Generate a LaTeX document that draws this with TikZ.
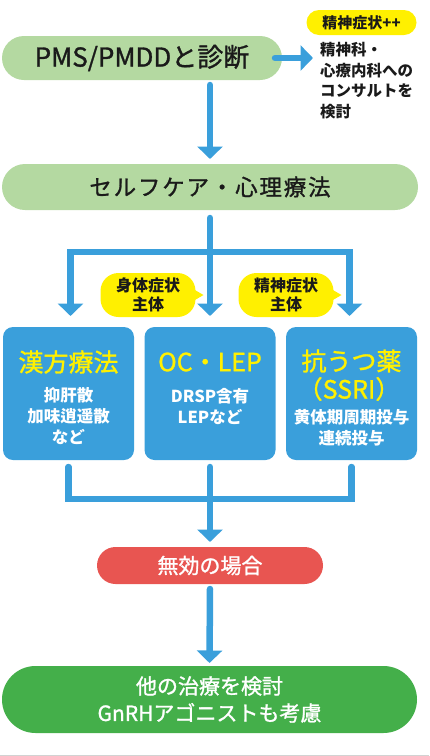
\documentclass[tikz,border=0pt]{standalone}
\usepackage{fontspec}
\setmainfont{Noto Sans CJK JP}
\newfontfamily\medfont[FakeBold=1.2]{Noto Sans CJK JP}
\newfontfamily\spcfont[LetterSpace=8,FakeBold=1.2]{Noto Sans CJK JP}
\usetikzlibrary{arrows.meta,calc}
\definecolor{lgreen}{HTML}{B4D9A1}
\definecolor{cblue}{HTML}{3A9FDB}
\definecolor{cyellow}{HTML}{FFF000}
\definecolor{cred}{HTML}{E85551}
\definecolor{cgreen}{HTML}{44AF4A}
\definecolor{ink}{HTML}{1A1A1A}
\begin{document}
\begin{tikzpicture}[x=1pt,y=-1pt,
 every node/.style={inner sep=0pt,outer sep=0pt,text=ink},
 arr/.style={draw=cblue,line width=6.5pt,line cap=round,-{Triangle[width=25pt,length=12.5pt]}},
 lin/.style={draw=cblue,line width=6.5pt,line cap=round,line join=miter},
 bluebox/.style={fill=cblue,rounded corners=10pt,minimum width=131pt,minimum height=133pt},
 ttl/.style={text=cyellow,font=\medfont\fontsize{25}{28}\selectfont},
 sub/.style={text=white,font=\bfseries\fontsize{16.5}{20}\selectfont},
 bubble/.style={fill=cyellow,rounded corners=18pt,minimum width=95pt,minimum height=44pt,align=center,font=\bfseries\fontsize{16}{18.5}\selectfont},
 ctext/.style={anchor=west,font=\bfseries\fontsize{15.5}{19}\selectfont}
]
\useasboundingbox (0,0) rectangle (429,756);
% top
\node[fill=lgreen,rounded corners=22pt,minimum width=280pt,minimum height=44pt,font=\medfont\fontsize{26}{30}\selectfont] (diag) at (142,58) {PMS/PMDDと診断};
\node[fill=cyellow,rounded corners=12.5pt,minimum width=110pt,minimum height=25pt,font=\bfseries\fontsize{15}{18}\selectfont] (psy) at (361.5,22.5) {精神症状++};
\node[ctext] (c1) at (320,50) {精神科・};
\node[ctext] (c2) at (320,70.5) {心療内科への};
\node[ctext] (c3) at (320,91) {コンサルトを};
\node[ctext] (c4) at (320,111.5) {検討};
\coordinate (tipA) at (313,58);
\draw[arr] ($(diag.east)+(-7,0)$) -- (tipA);
% self care
\node[fill=lgreen,rounded corners=23pt,minimum width=416pt,minimum height=46pt,font=\spcfont\fontsize{22.5}{26}\selectfont] (self) at (210,187) {セルフケア・心理療法};
\draw[arr] ($(diag.south -| self.north)+(0,5)$) -- ($(self.north)+(0,-5)$);
% boxes
\node[bluebox] (kanpo) at (68.5,393.5) {};
\node[bluebox] (oc) at (210,393.5) {};
\node[bluebox] (ssri) at (351.5,393.5) {};
\node[ttl] (kanpoT) at (68.5,362) {漢方療法};
\node[sub] (k1) at (68.5,395) {抑肝散};
\node[sub] (k2) at (68.5,416) {加味逍遥散};
\node[sub] (k3) at (68.5,437) {など};
\node[ttl] (ocT) at (210,362) {OC・LEP};
\node[sub] (o1) at (210,396) {DRSP含有};
\node[sub] (o2) at (210,417) {LEPなど};
\node[ttl] (ssriT) at (351.5,361) {抗うつ薬};
\node[ttl] (ssriT2) at (349,389) {（SSRI）};
\node[sub] (s1) at (351.5,417) {黄体期周期投与};
\node[sub] (s2) at (351.5,438) {連続投与};
% branches
\coordinate (j) at (210,252);
\draw[arr] ($(self.south)+(0,8)$) -- ($(oc.north)+(0,-11)$);
\draw[arr,line join=miter] (j) -| ($(kanpo.north)+(2,-11)$);
\draw[arr,line join=miter] (j) -| ($(ssri.north)+(-2,-11)$);
% bubbles
\node[bubble] (b1) at (148,295) {身体症状\\主体};
\node[bubble] (b2) at (286,295) {精神症状\\主体};
\fill[cyellow] ($(b1.east)+(-4,-7)$) -- ($(b1.east)+(8,0)$) -- ($(b1.east)+(-4,7)$) -- cycle;
\fill[cyellow] ($(b2.east)+(-4,-7)$) -- ($(b2.east)+(8,0)$) -- ($(b2.east)+(-4,7)$) -- cycle;
% merge
\coordinate (m) at (210,499);
\draw[lin] ($(kanpo.south)+(0,7)$) |- (m) -| ($(ssri.south)+(0,7)$);
\draw[lin] ($(oc.south)+(0,7)$) -- (m);
\node[fill=cred,rounded corners=18.5pt,minimum width=226pt,minimum height=37pt,text=white,font=\medfont\fontsize{21}{24}\selectfont] (fail) at (210,565.5) {無効の場合};
\draw[arr] (m) -- ($(fail.north)+(0,-5)$);
\node[fill=cgreen,rounded corners=33.5pt,minimum width=415pt,minimum height=67pt,text=white,align=center,font=\medfont\fontsize{21}{27}\selectfont] (other) at (209.5,699.5) {他の治療を検討\\GnRHアゴニストも考慮};
\draw[arr] ($(fail.south)+(0,5)$) -- ($(other.north)+(0,-3)$);
\draw[gray!35,line width=1pt] (0,755.5) -- (429,755.5);
\end{tikzpicture}
\end{document}
